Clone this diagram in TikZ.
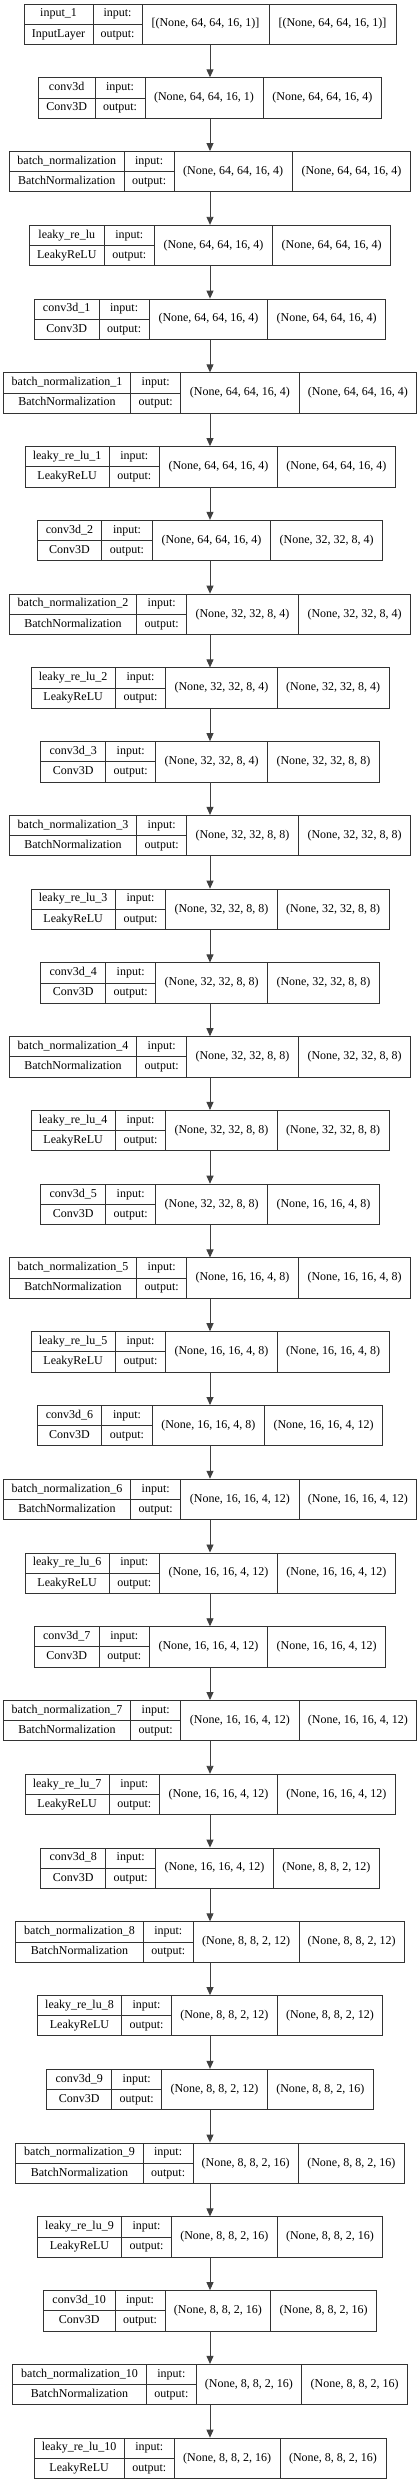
\documentclass[tikz,border=0pt]{standalone}
\usepackage{fontspec}
\setmainfont{Liberation Serif}
\usetikzlibrary{arrows.meta}
\tikzset{
  box/.style={draw=black!80, line width=0.9pt, rectangle, inner sep=0pt, minimum height=40.4pt},
  cell/.style={draw=black!80, line width=0.9pt},
  txt/.style={inner sep=0pt, font=\fontsize{12}{13}\selectfont, text height=8pt, text depth=2.5pt},
  arr/.style={draw=black!75, line width=0.9pt, -{Triangle[width=7pt,length=8pt]}},
}
\newcommand\lay[9]{%
  \pgfmathsetmacro\ty{-(4+73.76*#1)}%
  \pgfmathsetmacro\tm{\ty-20.2}%
  \pgfmathsetmacro\tb{\ty-40.4}%
  \pgfmathsetmacro\bw{420-2*#2}%
  \node[box, minimum width=\bw pt] (l#1) at (210,\tm) {};
  \draw[cell] (#3,\ty) -- (#3,\tb) (#4,\ty) -- (#4,\tb) (#5,\ty) -- (#5,\tb) (#2,\tm) -- (#4,\tm);
  \node[txt] (l#1name) at ({(#2+#3)/2},{\ty-10.1}) {#6};
  \node[txt] (l#1cls) at ({(#2+#3)/2},{\ty-30.3}) {#7};
  \node[txt] (l#1inl) at ({(#3+#4)/2},{\ty-10.1}) {input:};
  \node[txt] (l#1outl) at ({(#3+#4)/2},{\ty-30.3}) {output:};
  \node[txt] (l#1in) at ({(#4+#5)/2},\tm) {#8};
  \node[txt] (l#1out) at ({(#5+420-#2)/2},\tm) {#9};
}
\begin{document}
\begin{tikzpicture}[x=1pt,y=1pt]
\useasboundingbox[fill=white] (0,0) rectangle (420,-2484);
\lay{0}{24}{93}{142}{269}{input\_1}{InputLayer}{[(None, 64, 64, 16, 1)]}{[(None, 64, 64, 16, 1)]}
\lay{1}{38.3}{95}{145}{263}{conv3d}{Conv3D}{(None, 64, 64, 16, 1)}{(None, 64, 64, 16, 4)}
\lay{2}{9.3}{124.3}{174}{292.3}{batch\_normalization}{BatchNormalization}{(None, 64, 64, 16, 4)}{(None, 64, 64, 16, 4)}
\lay{3}{29.3}{104.3}{154.3}{272.7}{leaky\_re\_lu}{LeakyReLU}{(None, 64, 64, 16, 4)}{(None, 64, 64, 16, 4)}
\lay{4}{34.3}{99}{149.3}{267.7}{conv3d\_1}{Conv3D}{(None, 64, 64, 16, 4)}{(None, 64, 64, 16, 4)}
\lay{5}{3.3}{130.7}{180.7}{299}{batch\_normalization\_1}{BatchNormalization}{(None, 64, 64, 16, 4)}{(None, 64, 64, 16, 4)}
\lay{6}{25}{109.3}{159.3}{277.7}{leaky\_re\_lu\_1}{LeakyReLU}{(None, 64, 64, 16, 4)}{(None, 64, 64, 16, 4)}
\lay{7}{37.3}{101.7}{152.3}{270.7}{conv3d\_2}{Conv3D}{(None, 64, 64, 16, 4)}{(None, 32, 32, 8, 4)}
\lay{8}{9.3}{136.7}{186.7}{298.3}{batch\_normalization\_2}{BatchNormalization}{(None, 32, 32, 8, 4)}{(None, 32, 32, 8, 4)}
\lay{9}{31}{115.3}{165.7}{277.3}{leaky\_re\_lu\_2}{LeakyReLU}{(None, 32, 32, 8, 4)}{(None, 32, 32, 8, 4)}
\lay{10}{40.7}{105.7}{155.7}{267.7}{conv3d\_3}{Conv3D}{(None, 32, 32, 8, 4)}{(None, 32, 32, 8, 8)}
\lay{11}{9.3}{136.7}{186.7}{298.3}{batch\_normalization\_3}{BatchNormalization}{(None, 32, 32, 8, 8)}{(None, 32, 32, 8, 8)}
\lay{12}{31}{115.3}{165.7}{277.3}{leaky\_re\_lu\_3}{LeakyReLU}{(None, 32, 32, 8, 8)}{(None, 32, 32, 8, 8)}
\lay{13}{40.7}{105.7}{155.7}{267.7}{conv3d\_4}{Conv3D}{(None, 32, 32, 8, 8)}{(None, 32, 32, 8, 8)}
\lay{14}{9.3}{136.7}{186.7}{298.3}{batch\_normalization\_4}{BatchNormalization}{(None, 32, 32, 8, 8)}{(None, 32, 32, 8, 8)}
\lay{15}{31}{115.3}{165.7}{277.3}{leaky\_re\_lu\_4}{LeakyReLU}{(None, 32, 32, 8, 8)}{(None, 32, 32, 8, 8)}
\lay{16}{40.7}{105.7}{155.7}{267.7}{conv3d\_5}{Conv3D}{(None, 32, 32, 8, 8)}{(None, 16, 16, 4, 8)}
\lay{17}{9.3}{136.7}{186.7}{298.3}{batch\_normalization\_5}{BatchNormalization}{(None, 16, 16, 4, 8)}{(None, 16, 16, 4, 8)}
\lay{18}{31}{115.3}{165.7}{277.3}{leaky\_re\_lu\_5}{LeakyReLU}{(None, 16, 16, 4, 8)}{(None, 16, 16, 4, 8)}
\lay{19}{37.3}{101.7}{152.3}{264.3}{conv3d\_6}{Conv3D}{(None, 16, 16, 4, 8)}{(None, 16, 16, 4, 12)}
\lay{20}{3.3}{130.7}{180.7}{299}{batch\_normalization\_6}{BatchNormalization}{(None, 16, 16, 4, 12)}{(None, 16, 16, 4, 12)}
\lay{21}{25}{109.3}{159.3}{277.7}{leaky\_re\_lu\_6}{LeakyReLU}{(None, 16, 16, 4, 12)}{(None, 16, 16, 4, 12)}
\lay{22}{34.3}{99.3}{149.3}{267.7}{conv3d\_7}{Conv3D}{(None, 16, 16, 4, 12)}{(None, 16, 16, 4, 12)}
\lay{23}{3.3}{130.7}{180.7}{299}{batch\_normalization\_7}{BatchNormalization}{(None, 16, 16, 4, 12)}{(None, 16, 16, 4, 12)}
\lay{24}{25}{109.3}{159.3}{277.7}{leaky\_re\_lu\_7}{LeakyReLU}{(None, 16, 16, 4, 12)}{(None, 16, 16, 4, 12)}
\lay{25}{40.7}{105.7}{155.7}{273.3}{conv3d\_8}{Conv3D}{(None, 16, 16, 4, 12)}{(None, 8, 8, 2, 12)}
\lay{26}{15.7}{143.3}{193.3}{299}{batch\_normalization\_8}{BatchNormalization}{(None, 8, 8, 2, 12)}{(None, 8, 8, 2, 12)}
\lay{27}{37.3}{121.7}{171.3}{277.3}{leaky\_re\_lu\_8}{LeakyReLU}{(None, 8, 8, 2, 12)}{(None, 8, 8, 2, 12)}
\lay{28}{46.7}{111.7}{161.7}{267.3}{conv3d\_9}{Conv3D}{(None, 8, 8, 2, 12)}{(None, 8, 8, 2, 16)}
\lay{29}{15.7}{143.3}{193}{298.3}{batch\_normalization\_9}{BatchNormalization}{(None, 8, 8, 2, 16)}{(None, 8, 8, 2, 16)}
\lay{30}{37.3}{121.7}{171.3}{277.3}{leaky\_re\_lu\_9}{LeakyReLU}{(None, 8, 8, 2, 16)}{(None, 8, 8, 2, 16)}
\lay{31}{43.3}{115}{165}{270.7}{conv3d\_10}{Conv3D}{(None, 8, 8, 2, 16)}{(None, 8, 8, 2, 16)}
\lay{32}{12.3}{146.7}{196}{301.7}{batch\_normalization\_10}{BatchNormalization}{(None, 8, 8, 2, 16)}{(None, 8, 8, 2, 16)}
\lay{33}{34}{124.3}{174.3}{280}{leaky\_re\_lu\_10}{LeakyReLU}{(None, 8, 8, 2, 16)}{(None, 8, 8, 2, 16)}
\foreach \i [evaluate=\i as \j using int(\i+1)] in {0,...,32}
  \draw[arr] (l\i.south) -- (l\j.north);
\end{tikzpicture}
\end{document}
